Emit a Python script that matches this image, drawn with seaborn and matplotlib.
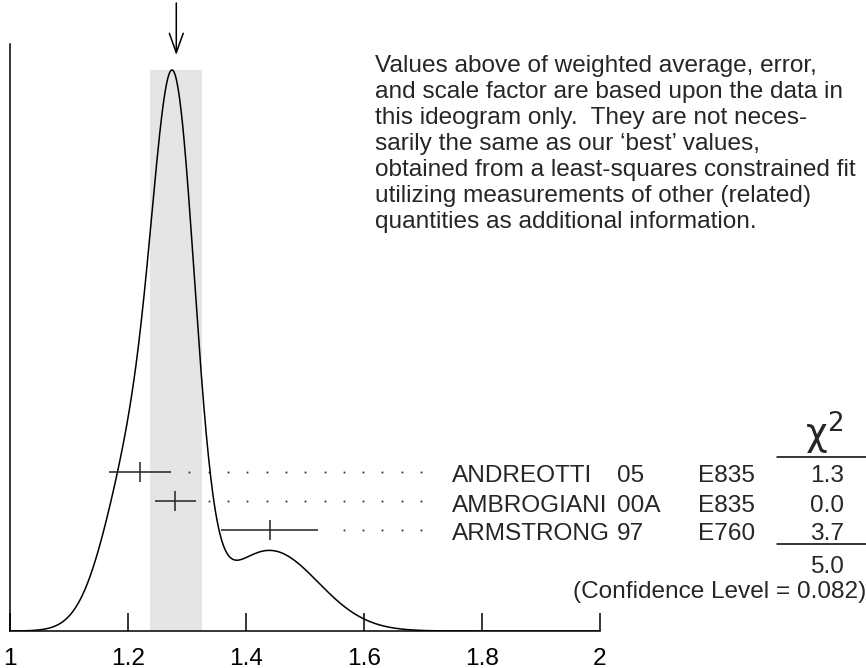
import numpy as np
import pandas as pd
import matplotlib
matplotlib.use('Agg')
import matplotlib.pyplot as plt
import seaborn as sns
from matplotlib.lines import Line2D

# measurements shown in the ideogram
names = ['ANDREOTTI', 'AMBROGIANI', 'ARMSTRONG']
years = ['05', '00A', '97']
labs = ['E835', 'E835', 'E760']
values = [1.22, 1.28, 1.44]
errors = [0.053, 0.035, 0.082]
chi2_labels = ['1.3', '0.0', '3.7']
chi2_total = '5.0'
conf_level = '0.082'
tick_values = [1.0, 1.2, 1.4, 1.6, 1.8, 2.0]
tick_labels = ['1', '1.2', '1.4', '1.6', '1.8', '2']

note_lines = [
    'Values above of weighted average, error,',
    'and scale factor are based upon the data in',
    'this ideogram only.  They are not neces-',
    'sarily the same as our \u2018best\u2019 values,',
    'obtained from a least-squares constrained fit',
    'utilizing measurements of other (related)',
    'quantities as additional information.',
]

sns.set_theme(style='white')
plt.rcParams['font.family'] = ['Liberation Sans', 'DejaVu Sans']
FS = 17.6

W, H = 866, 668
fig = plt.figure(figsize=(W / 100, H / 100), dpi=100)


def fx(p):
    return p / W


def fy(p):
    return 1 - p / H


# axes: x=1 at px 10, x=2 at px 600, baseline at px 631, top at px 44
ax = fig.add_axes([fx(10), fy(631), 590 / W, (631 - 44) / H])
ax.set_xlim(1, 2)
ax.set_ylim(0, 1)

# weighted average, scale factor
vals = np.array(values)
errs = np.array(errors)
w = 1 / errs ** 2
mean = np.sum(w * vals) / np.sum(w)
chi2 = np.sum(w * (vals - mean) ** 2)
scale = np.sqrt(chi2 / (len(vals) - 1))
err = scale / np.sqrt(np.sum(w))

# ideogram: sum of gaussians, area ~ 1/sigma
xs = np.linspace(1, 2, 801)
ideo = sum(wi * np.exp(-0.5 * ((xs - v) / e) ** 2) for v, e, wi in zip(vals, errs, w))
peak = (631 - 70) / (631 - 44)
curve = pd.DataFrame({'x': xs, 'y': ideo / ideo.max() * peak})

ax.axvspan(mean - err, mean + err, ymin=0, ymax=peak, color='#e5e5e5', lw=0, zorder=0)
sns.lineplot(data=curve, x='x', y='y', color='black', lw=1.1, ax=ax, zorder=3)

# measurement rows
row_step = 29 / 587
row_top = (631 - 472) / 587
cap = 10 / 587
dot_grid = 1.6966 - 0.0327 * np.arange(25)
for i, (v, e) in enumerate(zip(vals, errs)):
    y = row_top - i * row_step
    ax.hlines(y, v - e, v + e, color='#222222', lw=1.1, zorder=4)
    ax.vlines(v, y - cap, y + cap, color='#222222', lw=1.1, zorder=4)
    dx = dot_grid[(dot_grid > v + e + 0.02) & (dot_grid > 1)]
    ax.plot(dx, np.full(len(dx), y), ls='none', marker='s', ms=1.3, color='#333333', mew=0)

    base = 472 + 29 * i + 10.5
    fig.text(fx(452), fy(base), names[i], va='baseline', fontsize=FS)
    fig.text(fx(617), fy(base), years[i], va='baseline', fontsize=FS)
    fig.text(fx(698), fy(base), labs[i], va='baseline', fontsize=FS)
    fig.text(fx(827), fy(base), chi2_labels[i], va='baseline', ha='center', fontsize=FS)

# chi2 column
fig.text(fx(824), fy(447), r'$\mathrm{\chi}^{2}$', ha='center', va='baseline', fontsize=27)
for yy in (456.7, 544):
    fig.add_artist(Line2D([fx(777), fx(866)], [fy(yy), fy(yy)], color='black', lw=1.1,
                          transform=fig.transFigure))
fig.text(fx(827), fy(573), chi2_total, ha='center', va='baseline', fontsize=FS)
fig.text(fx(573), fy(598), f'(Confidence Level = {conf_level})', va='baseline', fontsize=FS)

# explanatory note
for i, line in enumerate(note_lines):
    fig.text(fx(375), fy(72 + 26 * i), line, va='baseline', fontsize=FS)

# arrow marking weighted average
ax.annotate('', xy=(mean, (631 - 55) / 587), xytext=(mean, (631 - 3) / 587),
            arrowprops=dict(arrowstyle='->,head_length=1.4,head_width=0.5', lw=1.1,
                            color='black', shrinkA=0, shrinkB=0, mutation_scale=10),
            annotation_clip=False)

# axes styling
ax.set_xticks(tick_values)
ax.set_xticklabels(tick_labels)
ax.set_yticks([])
ax.tick_params(axis='x', direction='in', length=13, width=1.1, pad=12,
               labelsize=FS, colors='black', bottom=True)
for side in ('top', 'right'):
    ax.spines[side].set_visible(False)
for side in ('left', 'bottom'):
    ax.spines[side].set_color('black')
    ax.spines[side].set_linewidth(1.1)
ax.set_xlabel('')
ax.set_ylabel('')

fig.savefig('out.png', dpi=100)
